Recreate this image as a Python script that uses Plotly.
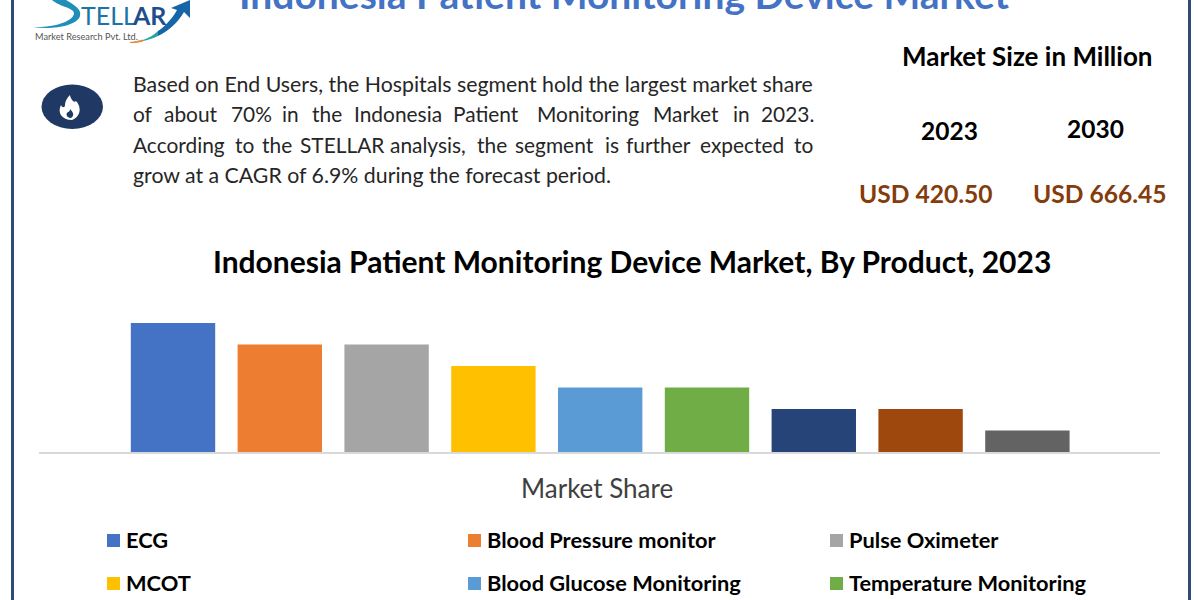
import plotly.graph_objects as go

W, H = 1200, 600
FONT = "Lato, Carlito, Calibri, sans-serif"

# ---------- data ----------
categories = ["ECG", "Blood Pressure monitor", "Pulse Oximeter", "MCOT",
              "Blood Glucose Monitoring", "Temperature Monitoring",
              "Unlabelled 1", "Unlabelled 2", "Unlabelled 3"]
market_share = [30, 25, 25, 20, 15, 15, 10, 10, 5]
bar_colors = ["#4472C4", "#ED7D31", "#A5A5A5", "#FFC000", "#5B9BD5", "#70AD47",
              "#264478", "#9E480E", "#636363"]
legend_labels = categories[:6]
title_text = "Indonesia Patient Monitoring Device Market"
chart_title = "Indonesia Patient Monitoring Device Market, By Product, 2023"
axis_title = "Market Share"
size_title = "Market Size in Million"
years = ["2023", "2030"]
sizes = ["USD 420.50", "USD 666.45"]
para_lines = [
    "Based on End Users, the Hospitals segment hold the largest market share",
    "of about 70% in the Indonesia Patient Monitoring Market in 2023.",
    "According to the STELLAR analysis, the segment is further expected to",
    "grow at a CAGR of 6.9% during the forecast period.",
]

# ---------- layout tables (pixels) ----------
para_y = [84, 114, 144.5, 175]
para_x = [
    [133],
    [133, 164, 231, 282, 312, 354, 453, 537, 653, 733, 761],
    [133, 235, 262, 300, 390, 477, 515, 605, 626, 700, 794],
    [133],
]
para_size = [21.3, 20.9, 20.9, 21.3]
legend_x = [107, 468, 830]
legend_y = [540, 583]


def px(x):
    return x / W


def py(y):
    return 1 - y / H


annotations = []
shapes = []


def text(x, y, s, size, color="#000000", bold=False, anchor="left", font=FONT):
    annotations.append(dict(
        x=px(x), y=py(y), xref="paper", yref="paper", text=f"<b>{s}</b>" if bold else s,
        showarrow=False, xanchor=anchor, yanchor="middle", align=anchor,
        font=dict(family=font, size=size, color=color),
        borderpad=0, borderwidth=0,
    ))


def path(d, fill, line="rgba(0,0,0,0)", width=0, layer="above"):
    shapes.append(dict(type="path", xref="paper", yref="paper", path=d, fillcolor=fill,
                       line=dict(color=line, width=width), layer=layer))


def P(*pts):
    """Build an SVG path from pixel coordinates; strings are commands."""
    out = []
    i = 0
    while i < len(pts):
        p = pts[i]
        if isinstance(p, str):
            out.append(p)
            i += 1
        else:
            out.append(f"{px(p):.5f},{py(pts[i + 1]):.5f}")
            i += 2
    return " ".join(out)


def rect(x0, y0, x1, y1, fill):
    shapes.append(dict(type="rect", xref="paper", yref="paper", x0=px(x0), x1=px(x1),
                       y0=py(y1), y1=py(y0), fillcolor=fill, line=dict(width=0)))


# page frame
frame = "#2F4A75"
rect(11, 0, 14, 600, frame)
rect(1188, 0, 1191, 600, frame)

# headline (cropped by the top edge of the page)
text(624, -6, title_text, 39, "#4472C4", True, "center")

# logo
path(P("M", 33, 27, "C", 52, 28, 72, 22, 74, 14, "C", 75, 8, 60, 7, 52, 0, "L", 66, 0, "C", 74, 5, 82, 9, 80, 16,
       "C", 77, 26, 52, 30, 33, 27, "Z"), "#1F8FB8")
text(81, 15, "TELL", 25, "#1B75A6", False)
text(132, 15, "AR", 25, "#1F4E8C", True)
path(P("M", 158, 31, "C", 167, 25, 173, 17, 177, 10, "L", 171, 8, "L", 190, 0, "L", 190, 18, "L", 184, 12,
       "C", 178, 22, 170, 30, 158, 36, "Z"), "#1565A8")
path(P("M", 143, 40, "C", 149, 38, 154, 35, 158, 31, "L", 158, 36, "C", 154, 38, 149, 40, 143, 41, "Z"), "#2AA3A0")
path(P("M", 130, 42.5, "C", 135, 42, 139, 41, 143, 40, "L", 143, 41, "C", 139, 42, 135, 43, 130, 42.5, "Z"), "#E08A3C", "#E08A3C", 1)
text(35, 37, "Market Research Pvt. Ltd.", 9.2, "#555555")

# flame badge
shapes.append(dict(type="circle", xref="paper", yref="paper", x0=px(41.5), x1=px(103), y0=py(129), y1=py(84.5),
                   fillcolor="#1F3864", line=dict(width=0)))
path(P("M", 70, 95, "C", 71, 100, 74, 103, 76, 101, "C", 81, 106, 82, 116, 72, 120, "C", 62, 120, 57, 113, 61, 105,
       "C", 62, 108, 65, 108, 65, 105, "C", 65, 101, 67, 98, 70, 95, "Z"), "#FFFFFF")
path(P("M", 70, 109, "C", 73, 112, 75, 115, 71, 118, "C", 67, 118, 65, 114, 68, 112, "C", 69, 112, 70, 111, 70, 109, "Z"),
     "#1F3864")

# paragraph (lines 2 and 3 are justified: each word placed on its own)
for line, y, xs, size in zip(para_lines, para_y, para_x, para_size):
    parts = [line] if len(xs) == 1 else line.split(" ")
    for word, x in zip(parts, xs):
        text(x, y, word, size, "#262626")

# market size block
text(1027, 55.5, size_title, 26, "#000000", True, "center")
text(949, 130, years[0], 24.5, "#000000", True, "center")
text(1095.5, 129, years[1], 24.5, "#000000", True, "center")
text(926, 193.5, sizes[0], 24.6, "#843C0C", True, "center")
text(1100, 193.5, sizes[1], 24.6, "#843C0C", True, "center")

# chart titles
text(632, 261, chart_title, 30, "#000000", True, "center")
text(597, 488, axis_title, 26, "#404040", False, "center")

# legend (third row falls below the page in the reference)
for i, (label, col) in enumerate(zip(legend_labels, bar_colors)):
    lx = legend_x[i % 3]
    ly = legend_y[i // 3]
    rect(lx, ly - 6, lx + 13, ly + 7, col)
    text(lx + 19, ly - 0.5, label, 21.8, "#000000", True)

fig = go.Figure(go.Bar(
    x=categories, y=market_share, marker=dict(color=bar_colors, line=dict(width=0)),
    width=0.79, hovertemplate="%{x}: %{y}<extra></extra>", showlegend=False,
))

pitch = 106.8
first_center = 173
fig.update_layout(
    width=W, height=H, margin=dict(l=0, r=0, t=0, b=0),
    paper_bgcolor="#FFFFFF", plot_bgcolor="#FFFFFF", showlegend=False,
    annotations=annotations, shapes=shapes,
    xaxis=dict(domain=[px(39), px(1160)], type="category", categoryorder="array", categoryarray=categories,
               range=[(39 - first_center) / pitch, (1160 - first_center) / pitch],
               showticklabels=False, ticks="", showgrid=False, zeroline=False,
               showline=True, linecolor="#D9D9D9", linewidth=2, fixedrange=True),
    yaxis=dict(domain=[py(452), py(310)], range=[0, 142 / 4.3], visible=False, fixedrange=True),
)

fig.write_html("out.html", config={"displayModeBar": False},
               post_script="document.body.style.margin='0';document.documentElement.style.overflow='hidden';window.dispatchEvent(new Event('resize'));")
